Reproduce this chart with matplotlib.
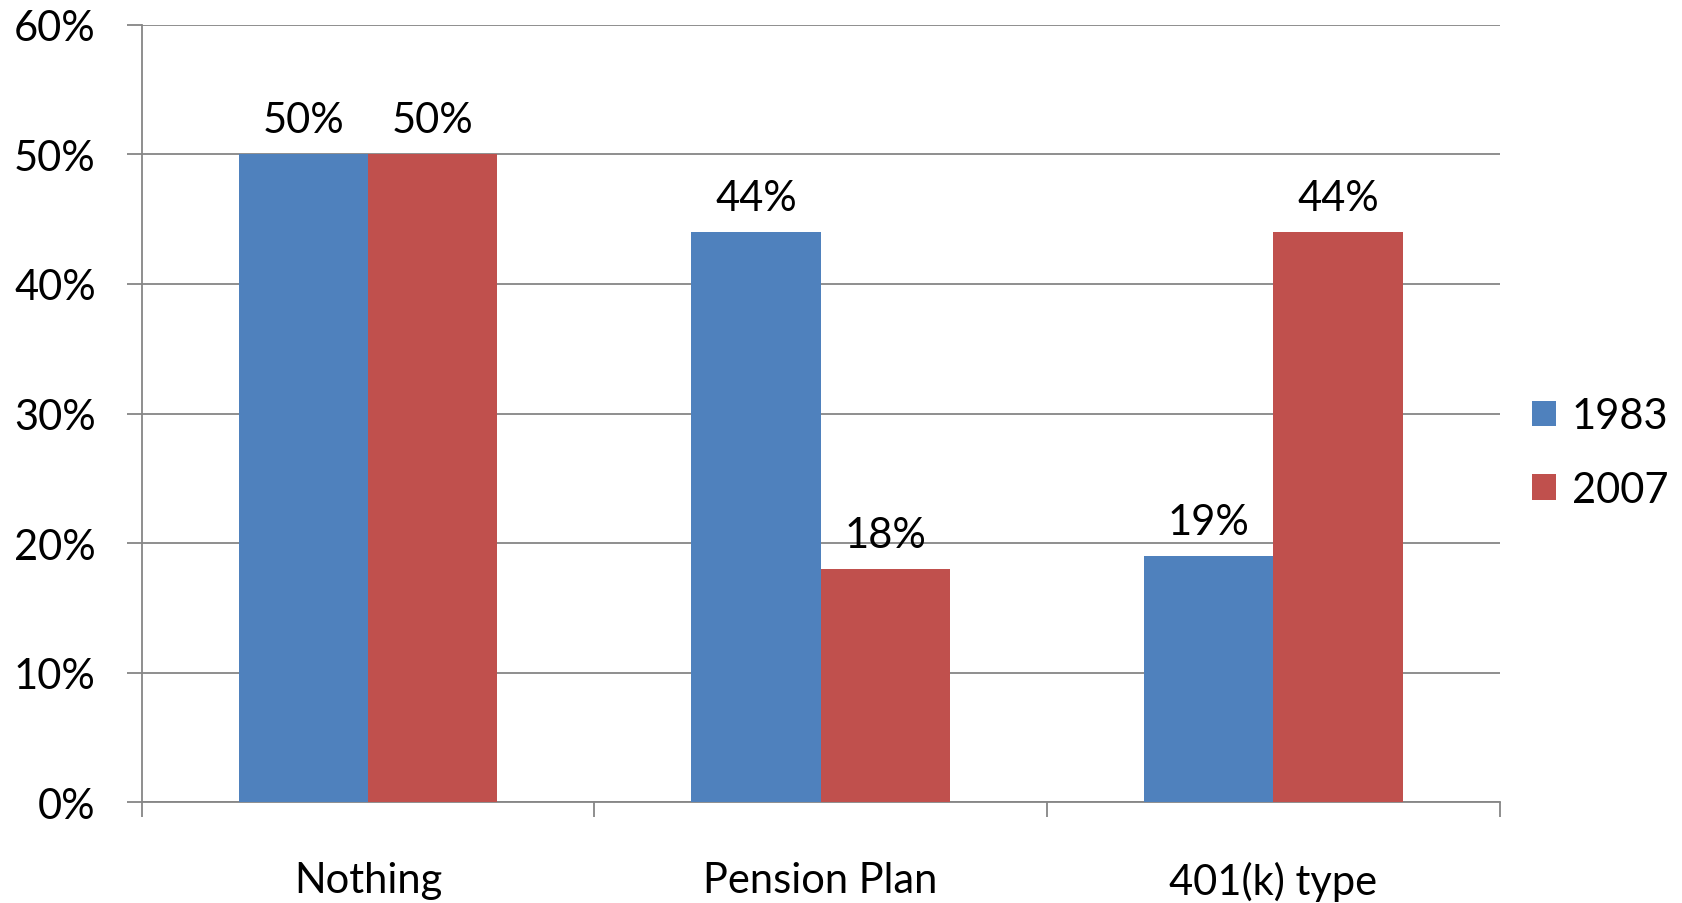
import matplotlib.pyplot as plt
import numpy as np
from matplotlib.ticker import MultipleLocator, FixedLocator, PercentFormatter

categories = ['Nothing', 'Pension Plan', '401(k) type']
years = ['1983', '2007']
values_1983 = [50, 44, 19]
values_2007 = [50, 18, 44]
colors = ['#4F81BD', '#C0504D']

plt.rcParams['font.family'] = ['Lato', 'DejaVu Sans']
grid_color = '#868686'
fs = 30

fig = plt.figure(figsize=(16.82, 9.04), dpi=100)
ax = fig.add_axes([0.0842, 0.1112, 0.8074, 0.8604])

x = np.arange(len(categories))
width = 1 / 3.5
b1 = ax.bar(x - width / 2, values_1983, width, color=colors[0], label=years[0], zorder=3)
b2 = ax.bar(x + width / 2, values_2007, width, color=colors[1], label=years[1], zorder=3)

for bars in (b1, b2):
    ax.bar_label(bars, labels=[f'{v}%' for v in bars.datavalues], padding=11, fontsize=fs)

ax.set_xlim(-0.5, len(categories) - 0.5)
ax.set_ylim(0, 60)
ax.yaxis.set_major_locator(MultipleLocator(10))
ax.yaxis.set_major_formatter(PercentFormatter(decimals=0))
ax.grid(axis='y', color=grid_color, linewidth=1.3, zorder=0)

ax.set_xticks(x)
ax.set_xticklabels(categories)
ax.xaxis.set_minor_locator(FixedLocator(np.arange(-0.5, len(categories), 1)))
ax.tick_params(axis='x', which='major', length=0, pad=42, labelsize=fs)
ax.tick_params(axis='x', which='minor', length=11, width=1.3, color=grid_color)
ax.tick_params(axis='y', length=11, width=1.3, color=grid_color, pad=22, labelsize=fs)

for side in ('top', 'right'):
    ax.spines[side].set_visible(False)
for side in ('left', 'bottom'):
    ax.spines[side].set_color(grid_color)
    ax.spines[side].set_linewidth(1.3)

fig.legend(handles=[b1, b2], labels=years, loc='center left',
           bbox_to_anchor=(0.911, 0.498), frameon=False, fontsize=fs,
           borderpad=0, borderaxespad=0,
           handlelength=0.57, handleheight=0.57, handletextpad=0.38, labelspacing=0.85)

fig.savefig('out.png', dpi=100)
